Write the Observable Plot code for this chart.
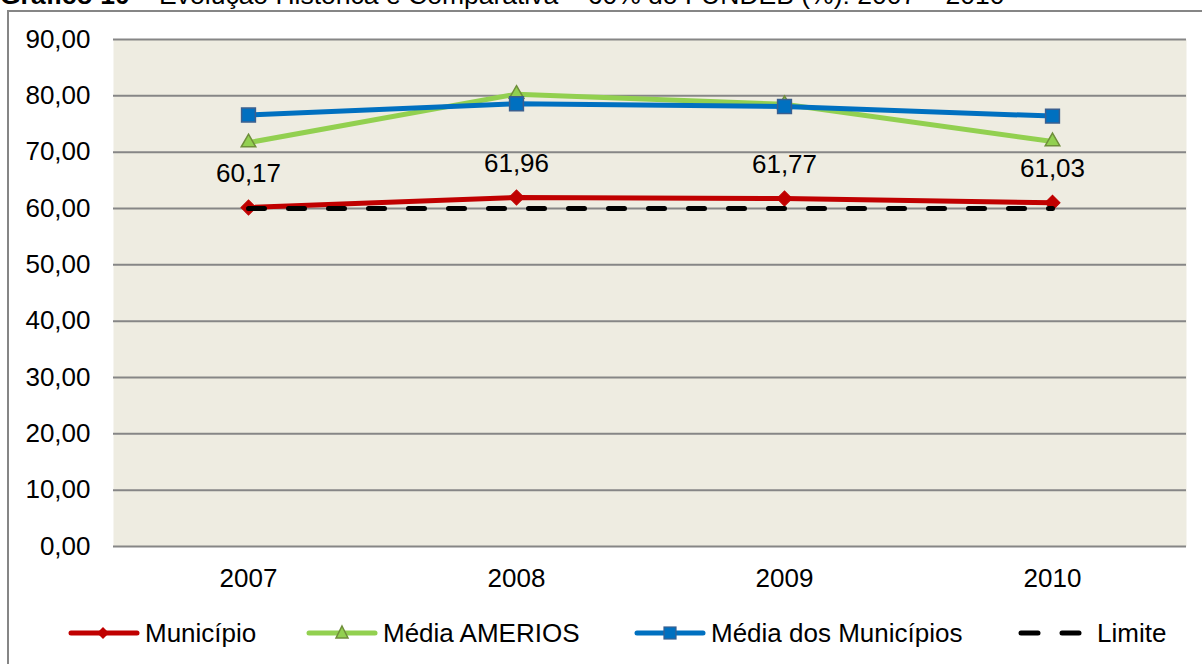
<!DOCTYPE html>
<html><head><meta charset="utf-8">
<script src="https://cdn.jsdelivr.net/npm/d3@7"></script>
<script src="https://cdn.jsdelivr.net/npm/@observablehq/plot@0.6"></script>
<style>
body{margin:0;background:#fff;font-family:"Liberation Sans",Arial,sans-serif;}
#wrap{position:relative;width:1202px;height:664px;overflow:hidden;background:#fff;}
#title{position:absolute;left:0px;top:-18px;font-size:26.5px;line-height:26.5px;white-space:nowrap;color:#000;}
#frame{position:absolute;left:7px;top:10px;width:1300px;height:800px;border:2px solid #868686;box-sizing:border-box;}
#chart{position:absolute;left:0;top:0;}
.leg{position:absolute;top:616px;height:34px;display:flex;align-items:center;font-size:26px;color:#000;white-space:nowrap;}
</style></head>
<body>
<div id="wrap">
  <div id="title"><b>Gráfico 10</b> – Evolução Histórica e Comparativa – 60% do FUNDEB (%): 2007 – 2010</div>
  <div id="frame"></div>
  <div id="chart"></div>
  <div id="legend"></div>
</div>
<script>
const years = ["2007", "2008", "2009", "2010"];
const municipio = [60.17, 61.96, 61.77, 61.03];
const mediaAmerios = [71.7, 80.3, 78.5, 71.9];
const mediaMunicipios = [76.6, 78.6, 78.1, 76.4];
const limite = [60, 60, 60, 60];
const yTicks = [0, 10, 20, 30, 40, 50, 60, 70, 80, 90];
const seriesNames = ["Município", "Média AMERIOS", "Média dos Municípios", "Limite"];

const RED = "#C00000", GREEN = "#92D050", BLUE = "#0070C0";
const fmt = v => v.toFixed(2).replace(".", ",");
const rows = vals => years.map((y, i) => ({year: y, value: vals[i]}));

const chart = Plot.plot({
  width: 1202, height: 600,
  marginLeft: 113, marginRight: 16, marginTop: 39, marginBottom: 54,
  style: {fontFamily: '"Liberation Sans", Arial, sans-serif', fontSize: "26px", color: "#000", background: "transparent", overflow: "visible"},
  x: {type: "point", domain: years, padding: 0.5, label: null},
  y: {domain: [0, 90], label: null},
  marks: [
    Plot.frame({fill: "#EEECE1", stroke: null}),
    Plot.gridY(yTicks, {stroke: "#868686", strokeOpacity: 1, strokeWidth: 2}),
    Plot.axisY(yTicks, {tickSize: 0, tickPadding: 23, tickFormat: fmt, fontSize: 26}),
    Plot.axisX({tickSize: 0, tickPadding: 22, fontSize: 26}),
    Plot.lineY(rows(municipio), {x: "year", y: "value", stroke: RED, strokeWidth: 5}),
    Plot.dot(rows(municipio), {x: "year", y: "value", symbol: "square", r: 6, rotate: 45, fill: RED, stroke: RED, strokeWidth: 1}),
    Plot.lineY(rows(mediaAmerios), {x: "year", y: "value", stroke: GREEN, strokeWidth: 5}),
    Plot.dot(rows(mediaAmerios), {x: "year", y: "value", symbol: "triangle", r: 5.4, fill: GREEN, stroke: "#6F8E3A", strokeWidth: 1.5}),
    Plot.lineY(rows(mediaMunicipios), {x: "year", y: "value", stroke: BLUE, strokeWidth: 5}),
    Plot.dot(rows(mediaMunicipios), {x: "year", y: "value", symbol: "square", r: 7.8, fill: BLUE, stroke: "#3A5F8F", strokeWidth: 1.5}),
    Plot.lineY(rows(limite), {x: "year", y: "value", stroke: "#000", strokeWidth: 5, strokeDasharray: "16,24", strokeLinecap: "round"}),
    Plot.text(rows(municipio), {x: "year", y: "value", text: d => fmt(d.value), dy: -34, fontSize: 26, fill: "#000"})
  ]
});
document.getElementById("chart").appendChild(chart);

// Legend
const legendLefts = [68, 306, 634, 1018];
const swatch = [
  `<line x1="3" y1="16" x2="69" y2="16" stroke="${RED}" stroke-width="5" stroke-linecap="round"/><path d="M35,10 L41,16 L35,22 L29,16 Z" fill="${RED}"/>`,
  `<line x1="3" y1="16" x2="69" y2="16" stroke="${GREEN}" stroke-width="5" stroke-linecap="round"/><path d="M36,9 L42,21 L30,21 Z" fill="${GREEN}" stroke="#6F8E3A" stroke-width="1.5"/>`,
  `<line x1="3" y1="16" x2="69" y2="16" stroke="${BLUE}" stroke-width="5" stroke-linecap="round"/><rect x="30" y="10" width="12" height="12" fill="${BLUE}" stroke="#3A5F8F" stroke-width="1.2"/>`,
  `<line x1="3" y1="16" x2="20" y2="16" stroke="#000" stroke-width="5" stroke-linecap="round"/><line x1="44" y1="16" x2="61" y2="16" stroke="#000" stroke-width="5" stroke-linecap="round"/>`
];
const legendGaps = [5, 5, 5, 7];
const leg = document.getElementById("legend");
seriesNames.forEach((name, i) => {
  const d = document.createElement("div");
  d.className = "leg";
  d.style.left = legendLefts[i] + "px";
  d.innerHTML = `<svg width="72" height="32" style="margin-right:${legendGaps[i]}px">${swatch[i]}</svg><span>${name}</span>`;
  leg.appendChild(d);
});
</script>
</body></html>
